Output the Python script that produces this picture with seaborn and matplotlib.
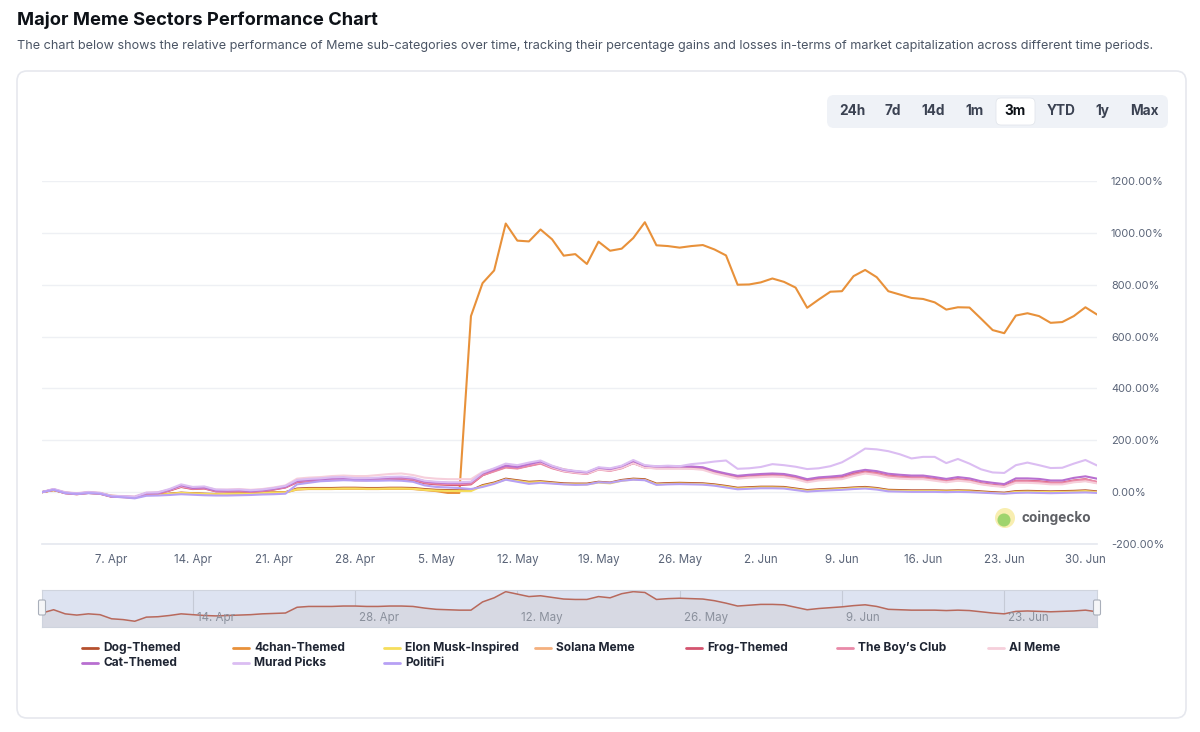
import pandas as pd
import numpy as np
import seaborn as sns
import matplotlib.pyplot as plt
import matplotlib.dates as mdates
from matplotlib.ticker import FuncFormatter
from matplotlib.patches import FancyBboxPatch, Circle
from matplotlib.lines import Line2D

# daily points, 1 Apr -> 1 Jul
dates = pd.date_range("2024-04-01", periods=92, freq="D")

sectors = ["Dog-Themed", "4chan-Themed", "Elon Musk-Inspired", "Solana Meme", "Frog-Themed",
           "The Boy\u2019s Club", "AI Meme", "Cat-Themed", "Murad Picks", "PolitiFi"]
colors = ["#b5502e", "#e8913a", "#f6de5c", "#f4b07e", "#d4546f",
          "#e98aa8", "#f6cfdb", "#b86fd0", "#dbbdf2", "#b7a0f4"]

dog = [0, 8, -2, -5, -2, -4, -14, -16, -20, -10,
       -9, -6, -2, -4, -6, -7, -6, -5, -4, -2,
       -1, 0, 14, 16, 16, 16, 17, 17, 16, 16,
       17, 17, 16, 12, 9, 8, 7, 7, 27, 37,
       52, 46, 40, 42, 38, 34, 33, 33, 40, 37,
       47, 52, 50, 33, 35, 36, 35, 34, 30, 24,
       17, 19, 21, 21, 20, 14, 8, 11, 13, 15,
       18, 20, 16, 9, 8, 7, 7, 7, 6, 7,
       6, 3, 0, -2, 4, 5, 4, 3, 4, 5,
       7, 3]
fourchan = [0, 8, -3, -6, -3, -5, -16, -18, -21, -11,
            -10, -7, -3, -5, -7, -8, -7, -6, -5, -3,
            -2, -1, 10, 12, 12, 12, 13, 13, 12, 12,
            13, 13, 12, 8, 4, -3, -3, 679, 806, 855,
            1036, 970, 967, 1013, 975, 912, 918, 880, 966, 931,
            939, 980, 1041, 952, 949, 943, 949, 953, 936, 913,
            800, 801, 809, 824, 811, 789, 711, 743, 773, 775,
            833, 857, 829, 775, 762, 749, 745, 732, 704, 713,
            712, 669, 625, 613, 681, 690, 679, 653, 656, 679,
            713, 685]
elon = [0, 8, -3, -6, -3, -5, -15, -18, -21, -11,
        -10, -7, -3, -5, -7, -8, -7, -6, -5, -3,
        -2, -1, 11, 13, 13, 13, 14, 14, 13, 13,
        14, 14, 13, 9, 6, 5, 4, 4, 24, 34,
        49, 43, 37, 39, 35, 31, 30, 30, 37, 34,
        44, 49, 47, 30, 32, 33, 32, 31, 27, 21,
        14, 16, 18, 18, 17, 11, 5, 8, 10, 12,
        15, 17, 13, 6, 5, 4, 4, 4, 3, 4,
        3, 0, -3, -5, 1, 2, 1, 0, 1, 2,
        4, 0]
solana = [0, 9, -3, -7, -2, -5, -16, -18, -19, -5,
          -4, 7, 22, 14, 16, 5, 5, 6, 3, 6,
          12, 20, 44, 48, 50, 54, 56, 52, 52, 54,
          57, 58, 54, 42, 38, 36, 36, 36, 68, 84,
          100, 97, 110, 118, 100, 88, 80, 75, 90, 86,
          96, 114, 96, 94, 94, 94, 94, 90, 76, 66,
          56, 60, 62, 64, 62, 54, 42, 48, 52, 54,
          66, 74, 70, 60, 56, 54, 54, 48, 42, 46,
          42, 32, 26, 22, 40, 40, 38, 34, 34, 40,
          44, 36]
frog = [0, 9, -4, -8, -3, -6, -18, -19, -21, -6,
        -5, 6, 20, 12, 14, 3, 3, 4, 2, 4,
        10, 18, 38, 42, 44, 47, 49, 46, 46, 48,
        50, 50, 46, 34, 30, 28, 27, 30, 65, 82,
        97, 93, 102, 112, 94, 82, 76, 72, 89, 84,
        94, 112, 96, 94, 94, 94, 93, 90, 76, 66,
        57, 61, 64, 66, 64, 56, 44, 51, 54, 58,
        72, 80, 74, 64, 60, 57, 57, 51, 44, 50,
        45, 34, 28, 24, 44, 44, 42, 37, 37, 45,
        50, 38]
boys_club = [0, 10, -4, -8, -3, -6, -17, -19, -20, -6,
             -5, 7, 22, 13, 15, 4, 4, 5, 2, 5,
             11, 19, 40, 44, 46, 50, 52, 48, 48, 50,
             52, 53, 49, 37, 33, 31, 31, 33, 66, 80,
             95, 91, 101, 110, 92, 80, 74, 70, 87, 82,
             92, 112, 95, 92, 92, 92, 92, 89, 75, 65,
             55, 59, 62, 64, 62, 54, 42, 49, 52, 55,
             68, 77, 72, 62, 58, 55, 55, 49, 42, 48,
             44, 33, 27, 22, 42, 42, 40, 35, 35, 44,
             49, 40]
ai_meme = [0, 12, 0, -4, 1, -2, -14, -15, -16, -2,
           0, 10, 24, 18, 20, 10, 10, 12, 9, 12,
           18, 26, 52, 56, 58, 62, 64, 62, 62, 66,
           70, 72, 66, 56, 52, 50, 50, 50, 78, 90,
           104, 98, 108, 116, 96, 82, 76, 72, 88, 84,
           94, 112, 94, 92, 92, 92, 90, 86, 72, 62,
           52, 56, 58, 60, 58, 50, 38, 45, 48, 50,
           62, 72, 66, 56, 52, 50, 50, 44, 38, 44,
           40, 30, 24, 20, 36, 36, 34, 30, 30, 38,
           42, 34]
cat = [0, 11, -2, -6, -1, -4, -16, -17, -19, -4,
       -3, 9, 26, 16, 18, 6, 6, 7, 4, 7,
       13, 21, 43, 47, 49, 53, 55, 51, 51, 53,
       56, 57, 53, 41, 37, 35, 35, 38, 72, 87,
       102, 97, 108, 118, 99, 86, 80, 76, 94, 89,
       100, 120, 102, 99, 99, 99, 99, 96, 82, 72,
       63, 67, 70, 72, 70, 62, 50, 57, 60, 64,
       78, 86, 81, 71, 67, 64, 64, 58, 51, 58,
       53, 42, 36, 31, 53, 53, 51, 45, 45, 55,
       61, 52]
murad = [0, 12, -1, -5, 0, -3, -15, -16, -18, -2,
         -1, 12, 30, 20, 22, 10, 9, 10, 7, 10,
         16, 24, 47, 51, 53, 57, 58, 54, 54, 56,
         59, 60, 56, 44, 40, 38, 38, 40, 75, 92,
         110, 104, 114, 122, 102, 88, 82, 78, 96, 92,
         102, 124, 104, 100, 102, 100, 108, 112, 118, 122,
         90, 92, 97, 108, 104, 98, 89, 92, 100, 115,
         140, 168, 165, 158, 146, 130, 136, 136, 112, 128,
         110, 88, 76, 74, 104, 114, 104, 93, 94, 110,
         124, 103]
politifi = [0, 9, -4, -7, -4, -6, -17, -20, -24, -14,
            -13, -11, -8, -10, -12, -13, -13, -12, -11, -9,
            -8, -6, 30, 36, 42, 44, 46, 45, 44, 44,
            45, 44, 40, 26, 20, 18, 16, 12, 20, 32,
            48, 40, 32, 36, 33, 30, 28, 29, 38, 36,
            44, 48, 46, 28, 30, 31, 30, 29, 25, 18,
            11, 13, 15, 15, 14, 8, 2, 5, 7, 9,
            12, 14, 10, 3, 2, 1, 1, 1, 0, 1,
            0, -2, -4, -6, -3, -2, -3, -4, -3, -2,
            -1, -3]

values = [dog, fourchan, elon, solana, frog, boys_club, ai_meme, cat, murad, politifi]

y_ticks = [-200, 0, 200, 400, 600, 800, 1000, 1200]
week_ticks = pd.date_range("2024-04-07", "2024-06-30", freq="7D")
nav_ticks = pd.date_range("2024-04-14", "2024-06-23", freq="14D")
buttons = ["24h", "7d", "14d", "1m", "3m", "YTD", "1y", "Max"]
button_x = [852, 893, 933, 975, 1015, 1061, 1102, 1144]

df = pd.DataFrame({"date": np.tile(dates, len(sectors)),
                   "sector": np.repeat(sectors, len(dates)),
                   "value": np.concatenate([np.array(v, dtype=float) for v in values])})

sns.set_theme(style="white")
plt.rcParams["font.family"] = ["Inter", "DejaVu Sans"]

W, H = 1200, 732
fig = plt.figure(figsize=(12, 7.32), dpi=100)


def fx(x):
    return x / W


def fy(y):
    return 1 - y / H


# card and header
fig.add_artist(FancyBboxPatch((17, H - 718), 1169, 647, boxstyle="round,pad=0,rounding_size=10",
                              transform=None, facecolor="white", edgecolor="#e6e8ee", linewidth=1.2,
                              zorder=-5))
fig.text(fx(17), fy(20), "Major Meme Sectors Performance Chart", fontsize=13.2, fontweight="bold",
         color="#0d1117", va="center")
fig.text(fx(17), fy(46), "The chart below shows the relative performance of Meme sub-categories over time, "
         "tracking their percentage gains and losses in-terms of market capitalization across different time periods.",
         fontsize=9.1, color="#4b5565", va="center")

# range buttons
fig.add_artist(FancyBboxPatch((827, H - 128), 341, 33, boxstyle="round,pad=0,rounding_size=7",
                              transform=None, facecolor="#eff2f7", edgecolor="none", zorder=-4))
fig.add_artist(FancyBboxPatch((996, H - 125), 39, 27, boxstyle="round,pad=0,rounding_size=5",
                              transform=None, facecolor="white", edgecolor="#e3e6ec", linewidth=0.6,
                              zorder=-3))
for b, bx in zip(buttons, button_x):
    fig.text(fx(bx), fy(111), b, fontsize=9.8, fontweight="bold",
             color="#0d1117" if b == "3m" else "#3b4252", ha="center", va="center")

# main chart
ax = fig.add_axes([fx(42), fy(544), fx(1097) - fx(42), fy(181) - fy(544)])
sns.lineplot(data=df, x="date", y="value", hue="sector", hue_order=sectors,
             palette=dict(zip(sectors, colors)), linewidth=1.5, legend=False, ax=ax)
ax.set_xlim(dates[0], dates[-1])
ax.set_ylim(-200, 1200)
ax.set_yticks(y_ticks)
ax.yaxis.tick_right()
ax.yaxis.set_major_formatter(FuncFormatter(lambda v, p: f"{v:.2f}%"))
ax.set_xticks(week_ticks)
ax.xaxis.set_major_formatter(FuncFormatter(lambda v, p: f"{mdates.num2date(v).day}. {mdates.num2date(v):%b}"))
ax.tick_params(axis="y", length=0, pad=10, labelsize=7.9, labelcolor="#5a6478")
ax.tick_params(axis="x", length=6, width=0.8, color="#e6e9f0", pad=1, labelsize=8.3, labelcolor="#5a6478")
ax.grid(axis="y", color="#eef0f4", linewidth=1)
ax.grid(axis="x", visible=False)
ax.set_xlabel("")
ax.set_ylabel("")
for s in ["top", "left", "right"]:
    ax.spines[s].set_visible(False)
ax.spines["bottom"].set_color("#e6e9f0")
ax.set_facecolor("none")

# watermark
fig.add_artist(Circle((1005, H - 518), 10, transform=None, facecolor="#f8eeb0", edgecolor="none"))
fig.add_artist(Circle((1004, H - 520), 6.5, transform=None, facecolor="#9fd46d", edgecolor="none"))
fig.text(fx(1022), fy(518), "coingecko", fontsize=9.8, fontweight="bold", color="#5f6166", va="center")

# navigator
nav = fig.add_axes([fx(42), fy(627), fx(1097) - fx(42), fy(590) - fy(627)])
nav.set_facecolor("#dde3f1")
nav.fill_between(dates, dog, -40, color="#d7d9e3")
sns.lineplot(x=dates, y=dog, color="#b8695c", linewidth=1.1, ax=nav)
nav.set_xlim(dates[0], dates[-1])
nav.set_ylim(-34, 56)
nav.set_xticks(nav_ticks)
nav.set_xticklabels([])
nav.set_yticks([])
nav.set_xlabel("")
nav.set_ylabel("")
nav.tick_params(length=0)
nav.grid(axis="x", color="#c5cad6", linewidth=0.8)
for d in nav_ticks:
    nav.annotate(f"{d.day}. {d:%b}", (d, 0), xycoords=("data", "axes fraction"),
                 xytext=(3, 4), textcoords="offset points", fontsize=8.3, color="#8a909c")
for s in nav.spines.values():
    s.set_color("#cfd4de")
    s.set_linewidth(0.8)
for hx in [42, 1097]:
    fig.add_artist(FancyBboxPatch((hx - 3.5, H - 615), 7, 15, boxstyle="round,pad=0,rounding_size=1.5",
                                  transform=None, facecolor="#f5f6f8", edgecolor="#a9afba", linewidth=0.8,
                                  zorder=5))

# legend
leg_x = [82, 233, 384, 535, 686, 837, 988, 82, 233, 384]
leg_y = [648] * 7 + [663] * 3
for name, c, lx, ly in zip(sectors, colors, leg_x, leg_y):
    fig.add_artist(Line2D([fx(lx), fx(lx + 16)], [fy(ly), fy(ly)], color=c, linewidth=2))
    fig.text(fx(lx + 21), fy(ly), name, fontsize=8.6, fontweight="bold", color="#1f2533", va="center")

fig.savefig("out.png", dpi=100, facecolor="white")
